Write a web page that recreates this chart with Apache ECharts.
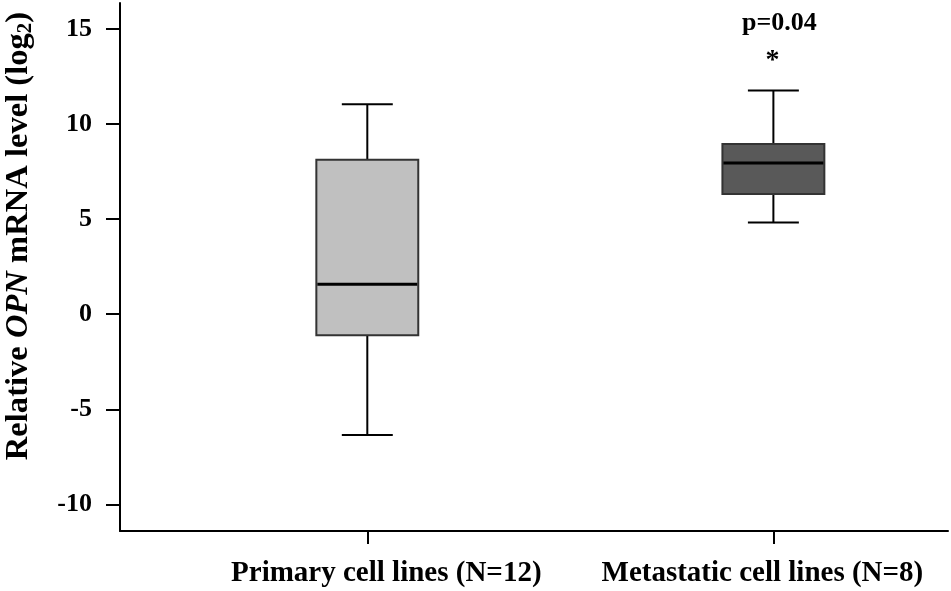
<!DOCTYPE html>
<html>
<head>
<meta charset="utf-8">
<script src="https://cdn.jsdelivr.net/npm/echarts@6/dist/echarts.min.js"></script>
<style>
html,body{margin:0;padding:0;background:#fff;}
#chart{width:951px;height:591px;}
</style>
</head>
<body>
<div id="chart"></div>
<script>
const categories = ['Primary cell lines (N=12)', 'Metastatic cell lines (N=8)'];
const positions = [1, 2];
const minVals = [-6.35, 4.82];
const q1Vals = [-1.1, 6.32];
const medianVals = [1.58, 7.95];
const q3Vals = [8.12, 8.95];
const maxVals = [11.05, 11.77];
const fillColors = ['#c0c0c0', '#595959'];
const pLabels = ['', 'p=0.04'];
const sigMarks = ['', '*'];
const yTicks = [-10, -5, 0, 5, 10, 15];

const FONT = "'Liberation Serif', 'Times New Roman', serif";
const data = positions.map((x, i) => [x, minVals[i], q1Vals[i], medianVals[i], q3Vals[i], maxVals[i], i]);

function renderItem(params, api) {
  const x = api.value(0);
  const idx = api.value(6);
  const pMin = api.coord([x, api.value(1)]);
  const pQ1 = api.coord([x, api.value(2)]);
  const pMed = api.coord([x, api.value(3)]);
  const pQ3 = api.coord([x, api.value(4)]);
  const pMax = api.coord([x, api.value(5)]);
  const cx = pMed[0];
  const boxW = api.size([0.251, 0])[0];
  const capW = boxW / 2;
  const wStyle = { stroke: '#000', lineWidth: 2 };
  const children = [
    { type: 'line', shape: { x1: cx, y1: pQ3[1], x2: cx, y2: pMax[1] }, style: wStyle },
    { type: 'line', shape: { x1: cx, y1: pQ1[1], x2: cx, y2: pMin[1] }, style: wStyle },
    { type: 'line', shape: { x1: cx - capW / 2, y1: pMax[1], x2: cx + capW / 2, y2: pMax[1] }, style: wStyle },
    { type: 'line', shape: { x1: cx - capW / 2, y1: pMin[1], x2: cx + capW / 2, y2: pMin[1] }, style: wStyle },
    { type: 'rect', shape: { x: cx - boxW / 2, y: pQ3[1], width: boxW, height: pQ1[1] - pQ3[1] },
      style: { fill: fillColors[idx], stroke: '#333', lineWidth: 2 } },
    { type: 'line', shape: { x1: cx - boxW / 2 + 1, y1: pMed[1], x2: cx + boxW / 2 - 1, y2: pMed[1] },
      style: { stroke: '#000', lineWidth: 3 } }
  ];
  if (pLabels[idx]) {
    children.push({ type: 'text', style: { text: pLabels[idx], x: cx + 6, y: pMax[1] - 67,
      font: 'bold 26px ' + FONT, fill: '#000', textAlign: 'center', textVerticalAlign: 'middle' } });
  }
  if (sigMarks[idx]) {
    children.push({ type: 'text', style: { text: sigMarks[idx], x: cx - 1, y: pMax[1] - 30,
      font: 'bold 28px ' + FONT, fill: '#000', textAlign: 'center', textVerticalAlign: 'middle' } });
  }
  return { type: 'group', children };
}

const chart = echarts.init(document.getElementById('chart'));
chart.setOption({
  animation: false,
  backgroundColor: '#fff',
  grid: { left: 120, right: 3, top: 3, bottom: 60, containLabel: false, outerBoundsMode: 'none' },
  xAxis: {
    type: 'value', min: 0.391, max: 2.43,
    axisLine: { show: true, onZero: false, lineStyle: { color: '#000', width: 2 } },
    axisTick: { show: true, customValues: positions, length: 13, lineStyle: { color: '#000', width: 2 } },
    axisLabel: {
      customValues: positions, margin: 28, color: '#000', hideOverlap: false,
      formatter: v => { const i = positions.indexOf(v); return '{' + (i === 0 ? 'a' : 'b') + '|' + categories[i] + '}'; },
      rich: {
        a: { fontFamily: FONT, fontWeight: 'bold', fontSize: 29, color: '#000', padding: [0, 0, 0, 38] },
        b: { fontFamily: FONT, fontWeight: 'bold', fontSize: 29, color: '#000', padding: [0, 22, 0, 0] }
      }
    },
    splitLine: { show: false }
  },
  yAxis: {
    type: 'value', min: -11.4, max: 16.37,
    name: 'Relative {i|OPN} mRNA level (log{s|2})',
    nameLocation: 'middle', nameRotate: 90, nameGap: 84,
    nameTextStyle: {
      fontFamily: FONT, fontWeight: 'bold', fontSize: 32.6, color: '#000',
      padding: [0, 0, 0, 62],
      rich: {
        i: { fontFamily: FONT, fontWeight: 'bold', fontStyle: 'italic', fontSize: 32.6, color: '#000' },
        s: { fontFamily: FONT, fontWeight: 'bold', fontSize: 21, color: '#000', verticalAlign: 'bottom', padding: [13, 0, 0, 0] }
      }
    },
    axisLine: { show: true, lineStyle: { color: '#000', width: 2 } },
    axisTick: { show: true, customValues: yTicks, length: 14, lineStyle: { color: '#000', width: 2 } },
    axisLabel: { customValues: yTicks, margin: 28, fontFamily: FONT, fontWeight: 'bold', fontSize: 26, color: '#000' },
    splitLine: { show: false }
  },
  series: [{
    type: 'custom',
    renderItem: renderItem,
    data: data,
    clip: false
  }]
});
</script>
</body>
</html>
